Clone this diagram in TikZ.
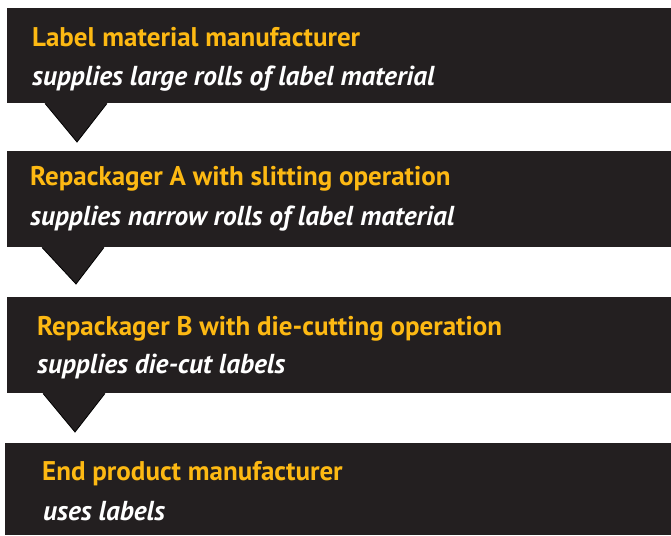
\documentclass[tikz,border=0pt]{standalone}
\usepackage{fontspec}
\setmainfont{PT Sans}
\definecolor{boxdark}{HTML}{231F20}
\definecolor{titleyellow}{HTML}{FDB913}
\begin{document}
\begin{tikzpicture}[x=1pt,y=-1pt,
  panel/.style={rectangle,fill=boxdark,inner sep=0pt,anchor=north west,minimum width=#1},
  title/.style={anchor=base west,inner sep=0pt,text=titleyellow,font=\fontsize{27}{30}\selectfont\bfseries},
  sub/.style={anchor=base west,inner sep=0pt,text=white,font=\fontsize{27.4}{30}\selectfont\bfseries\itshape},
  pointer/.style={fill=boxdark,draw=black,line width=0.8pt,line join=miter}]
\useasboundingbox (0,0) rectangle (671,535);
\node[panel=664pt,minimum height=95pt] (b1) at (7,8) {};
\node[panel=664pt,minimum height=96pt] (b2) at (7,151) {};
\node[panel=664pt,minimum height=96pt] (b3) at (7,297) {};
\node[panel=666pt,minimum height=92pt] (b4) at (5,443) {};
% pointers
\coordinate (p1) at (77,142);
\coordinate (p2) at (76,284);
\coordinate (p3) at (75,432);
\draw[pointer] ([xshift=38pt]b1.south west) -- (p1) -- ([xshift=100pt]b1.south west);
\fill[boxdark] ([xshift=38pt,yshift=1pt]b1.south west) -- ([xshift=100pt,yshift=1pt]b1.south west) -- ([yshift=3pt]p1) -- cycle;
\draw[pointer] ([xshift=35pt]b2.south west) -- (p2) -- ([xshift=97pt]b2.south west);
\fill[boxdark] ([xshift=35pt,yshift=1pt]b2.south west) -- ([xshift=97pt,yshift=1pt]b2.south west) -- ([yshift=3pt]p2) -- cycle;
\draw[pointer] ([xshift=36pt]b3.south west) -- (p3) -- ([xshift=98pt]b3.south west);
\fill[boxdark] ([xshift=36pt,yshift=1pt]b3.south west) -- ([xshift=98pt,yshift=1pt]b3.south west) -- ([yshift=3pt]p3) -- cycle;
% texts
\node[title] (t1) at (32,47) {Label material manufacturer};
\node[sub] (s1) at (32,85) {supplies large rolls of label material};
\node[title] (t2) at (30,185) {Repackager A with slitting operation};
\node[sub] (s2) at (30,225) {supplies narrow rolls of label material};
\node[title] (t3) at (37,335) {Repackager B with die-cutting operation};
\node[sub] (s3) at (37,373) {supplies die-cut labels};
\node[title] (t4) at (42,480) {End product manufacturer};
\node[sub] (s4) at (43,520) {uses labels};
\end{tikzpicture}
\end{document}
